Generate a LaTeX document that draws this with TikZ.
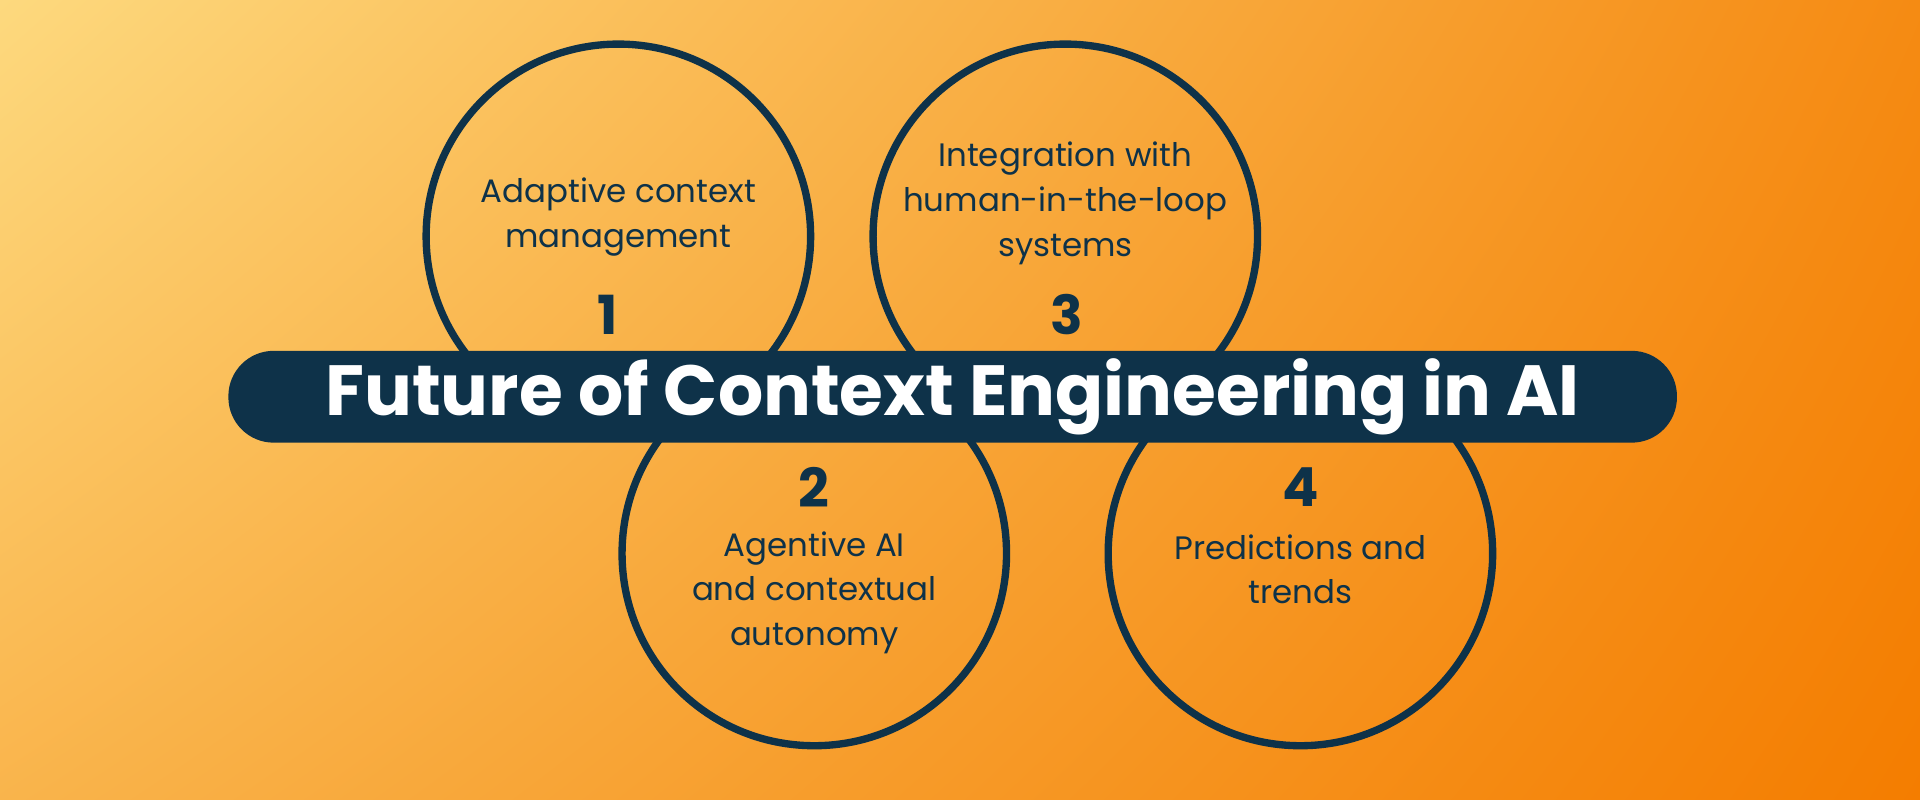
\documentclass[tikz,border=0pt]{standalone}
\usepackage{fontspec}
\setmainfont{Poppins}
\usetikzlibrary{shadings}
\definecolor{navy}{HTML}{0E3249}
\definecolor{lightY}{HTML}{FDD97E}
\definecolor{orangeD}{HTML}{F47D00}
\tikzset{
  ring/.style={circle,draw=navy,line width=6pt,minimum size=314pt,inner sep=0pt},
  lbl/.style={align=center,text=navy,font=\fontsize{26.5}{36.5}\selectfont},
  num/.style={text=navy,font=\fontsize{44}{46}\selectfont\bfseries},
  banner/.style={rounded corners=37pt,fill=navy,minimum width=1183pt,minimum height=75pt,inner sep=0pt,text=white,font=\fontsize{58}{60}\selectfont\bfseries}
}
\begin{document}
\begin{tikzpicture}[x=1pt,y=-1pt]
\useasboundingbox (0,0) rectangle (1568,653);
\shade[upper left=lightY,upper right=orangeD!85!lightY,lower left=orangeD!40!lightY,lower right=orangeD] (0,0) rectangle (1568,653);
\node[ring] (c1) at (505,193) {};
\node[ring] (c3) at (870,193) {};
\node[ring] (c2) at (665,452) {};
\node[ring] (c4) at (1062,452) {};
\node[lbl] (t1) at (505,177) {Adaptive context\\management};
\node[num] (n1) at (496,257) {1};
\node[lbl] (t3) at (870,166) {Integration with\\human-in-the-loop\\systems};
\node[num] (n3) at (871,257) {3};
\node[num] (n2) at (665,398) {2};
\node[lbl] (t2) at (665,484) {Agentive AI\\and contextual\\autonomy};
\node[num] (n4) at (1062,398) {4};
\node[lbl] (t4) at (1062,465) {Predictions and\\trends};
\node[banner] (b) at (778,324) {Future of Context Engineering in AI};
\end{tikzpicture}
\end{document}
